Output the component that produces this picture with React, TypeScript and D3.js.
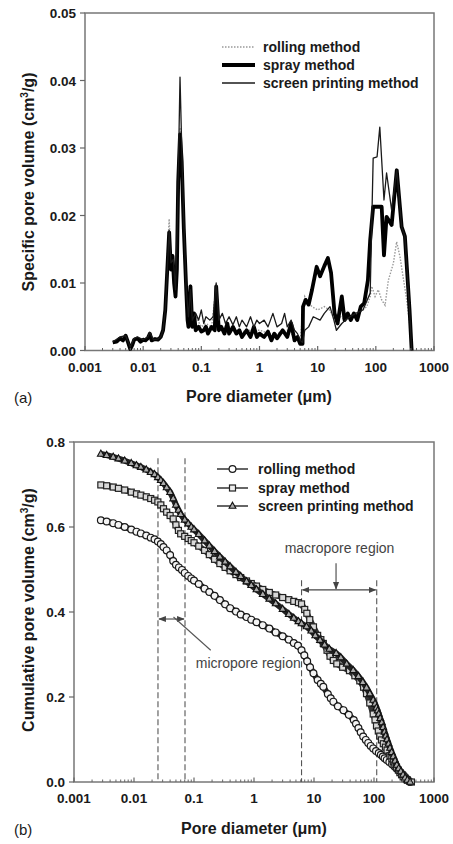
import React from 'react';
import * as d3 from 'd3';

const W = 453;
const H = 844;
const FONT = "'Liberation Sans', Arial, Helvetica, sans-serif";

// ---------- shared axis data ----------
const xTickValues = [0.001, 0.01, 0.1, 1, 10, 100, 1000];
const xTickLabels = ['0.001', '0.01', '0.1', '1', '10', '100', '1000'];
const seriesNames = ['rolling method', 'spray method', 'screen printing method'];

// ---------- chart (a): specific pore volume ----------
const yTicksA = [0, 0.01, 0.02, 0.03, 0.04, 0.05];
const yTickLabelsA = ['0.00', '0.01', '0.02', '0.03', '0.04', '0.05'];

const rollingSpecific: [number, number][] = [
  [0.003, 0.0012], [0.004, 0.0018], [0.005, 0.002], [0.006, 0.0003], [0.007, 0.0015], [0.008, 0.0018],
  [0.01, 0.0015], [0.013, 0.0024], [0.015, 0.0015], [0.02, 0.0019], [0.022, 0.003], [0.024, 0.007],
  [0.026, 0.014], [0.028, 0.0195], [0.03, 0.013], [0.033, 0.012], [0.036, 0.0085], [0.039, 0.018],
  [0.043, 0.033], [0.047, 0.026], [0.05, 0.018], [0.055, 0.0095], [0.06, 0.004], [0.065, 0.0098],
  [0.07, 0.004], [0.08, 0.005], [0.1, 0.0035], [0.12, 0.004], [0.15, 0.0035], [0.18, 0.0095],
  [0.2, 0.0035], [0.25, 0.003], [0.3, 0.0035], [0.4, 0.003], [0.5, 0.0028], [0.7, 0.003], [1.0, 0.003],
  [1.5, 0.0025], [2.0, 0.0025], [3.0, 0.003], [4.0, 0.002], [5.0, 0.0015], [5.5, 0.005], [6.0, 0.008],
  [7, 0.007], [8, 0.0065], [10, 0.006], [13, 0.0065], [16, 0.006], [20, 0.0045], [25, 0.005],
  [30, 0.0045], [40, 0.005], [50, 0.0055], [60, 0.006], [70, 0.0065], [80, 0.008], [85, 0.0095],
  [97, 0.008], [110, 0.009], [126, 0.0075], [144, 0.0067], [164, 0.0104], [200, 0.0129], [228, 0.0161],
  [260, 0.0139], [339, 0.0075], [413, 0.0016], [430, 0],
];

const spraySpecific: [number, number][] = [
  [0.003, 0.0012], [0.0035, 0.0013], [0.004, 0.0018], [0.0045, 0.0015], [0.005, 0.0022], [0.0055, 0.0012],
  [0.006, 0.0002], [0.0065, 0.0008], [0.007, 0.0016], [0.008, 0.0018], [0.009, 0.0013], [0.01, 0.0016],
  [0.011, 0.0015], [0.012, 0.0018], [0.013, 0.0025], [0.014, 0.0015], [0.016, 0.0017], [0.018, 0.0016],
  [0.02, 0.002], [0.022, 0.003], [0.024, 0.006], [0.026, 0.012], [0.028, 0.0175], [0.03, 0.012],
  [0.032, 0.014], [0.034, 0.01], [0.036, 0.008], [0.038, 0.012], [0.04, 0.025], [0.043, 0.032],
  [0.046, 0.028], [0.05, 0.018], [0.055, 0.009], [0.058, 0.0045], [0.06, 0.0035], [0.065, 0.0095],
  [0.07, 0.0035], [0.075, 0.0055], [0.08, 0.003], [0.09, 0.0035], [0.1, 0.0028], [0.11, 0.003],
  [0.12, 0.0035], [0.13, 0.0025], [0.15, 0.0035], [0.17, 0.003], [0.18, 0.0095], [0.2, 0.003],
  [0.22, 0.0035], [0.25, 0.0025], [0.28, 0.004], [0.3, 0.0025], [0.35, 0.0035], [0.4, 0.0025],
  [0.45, 0.003], [0.5, 0.002], [0.6, 0.003], [0.7, 0.002], [0.8, 0.0035], [0.9, 0.002], [1.0, 0.0025],
  [1.2, 0.002], [1.4, 0.0028], [1.6, 0.0015], [1.8, 0.0025], [2.0, 0.0018], [2.5, 0.003], [3.0, 0.002],
  [3.5, 0.004], [4.0, 0.0015], [4.5, 0.002], [5.0, 0.001], [5.5, 0.001], [5.6, 0.0065], [6.2, 0.0075],
  [7.0, 0.0068], [8.0, 0.009], [9.6, 0.0124], [11, 0.011], [13, 0.0125], [15, 0.0137], [17, 0.0115],
  [19.5, 0.0055], [22, 0.004], [26, 0.008], [29, 0.0045], [33, 0.0055], [37, 0.0045], [42, 0.0055],
  [48, 0.0045], [55, 0.0065], [63, 0.007], [73, 0.0104], [80, 0.0164], [90, 0.0213], [105, 0.0213],
  [126, 0.0213], [138, 0.0141], [153, 0.0198], [187, 0.0186], [229, 0.0267], [278, 0.0183],
  [316, 0.0169], [380, 0.006], [413, 0],
];

const screenSpecific: [number, number][] = [
  [0.003, 0.0013], [0.004, 0.002], [0.005, 0.0022], [0.006, 0.0005], [0.007, 0.0018], [0.008, 0.002],
  [0.01, 0.0016], [0.012, 0.002], [0.013, 0.0027], [0.015, 0.0016], [0.018, 0.0017], [0.02, 0.002],
  [0.022, 0.003], [0.024, 0.006], [0.026, 0.012], [0.028, 0.0178], [0.03, 0.013], [0.033, 0.0135],
  [0.036, 0.009], [0.039, 0.02], [0.043, 0.0405], [0.047, 0.027], [0.05, 0.019], [0.055, 0.009],
  [0.06, 0.005], [0.065, 0.009], [0.07, 0.0045], [0.08, 0.0055], [0.09, 0.0045], [0.1, 0.006],
  [0.11, 0.004], [0.12, 0.005], [0.14, 0.0045], [0.16, 0.005], [0.18, 0.01], [0.2, 0.0045],
  [0.23, 0.0055], [0.26, 0.004], [0.3, 0.005], [0.35, 0.0038], [0.4, 0.005], [0.45, 0.0035],
  [0.5, 0.0045], [0.6, 0.0035], [0.7, 0.005], [0.8, 0.0035], [0.9, 0.0045], [1.0, 0.004], [1.2, 0.0045],
  [1.4, 0.0035], [1.7, 0.0055], [2.0, 0.0035], [2.4, 0.004], [2.7, 0.0055], [3.0, 0.0035], [3.5, 0.0045],
  [4.0, 0.003], [4.5, 0.0025], [5.0, 0.0015], [5.5, 0.0012], [6.0, 0.003], [7, 0.0035], [8.4, 0.005],
  [11, 0.0045], [13, 0.0055], [16.3, 0.0065], [19, 0.0045], [21, 0.003], [26, 0.004], [30, 0.0045],
  [36, 0.005], [45, 0.0055], [60, 0.006], [80, 0.0085], [90, 0.0285], [105, 0.0287], [117, 0.0331],
  [138, 0.0223], [153, 0.0263], [187, 0.0208], [229, 0.0267], [278, 0.0183], [316, 0.0169],
  [380, 0.006], [413, 0],
];

// ---------- chart (b): cumulative pore volume ----------
const yTicksB = [0, 0.2, 0.4, 0.6, 0.8];
const yTickLabelsB = ['0.0', '0.2', '0.4', '0.6', '0.8'];

const rollingCumulative: [number, number][] = [
  [0.0028, 0.616], [0.0035, 0.613], [0.0045, 0.609], [0.0055, 0.605], [0.007, 0.6], [0.009, 0.594],
  [0.011, 0.589], [0.013, 0.585], [0.016, 0.58], [0.019, 0.575], [0.022, 0.571], [0.025, 0.566],
  [0.028, 0.56], [0.031, 0.553], [0.035, 0.545], [0.04, 0.534], [0.045, 0.52], [0.05, 0.511],
  [0.056, 0.505], [0.063, 0.499], [0.07, 0.492], [0.08, 0.485], [0.09, 0.479], [0.1, 0.474],
  [0.12, 0.466], [0.15, 0.455], [0.18, 0.447], [0.22, 0.438], [0.27, 0.428], [0.33, 0.418],
  [0.4, 0.409], [0.5, 0.401], [0.6, 0.394], [0.75, 0.388], [0.9, 0.382], [1.1, 0.376], [1.4, 0.369],
  [1.8, 0.361], [2.3, 0.352], [3.0, 0.343], [3.8, 0.335], [4.6, 0.327], [5.4, 0.321], [6.2, 0.31],
  [6.9, 0.298], [7.7, 0.284], [8.6, 0.27], [9.8, 0.256], [11.5, 0.24], [13, 0.231], [14.3, 0.224],
  [17, 0.207], [19, 0.197], [21, 0.189], [25, 0.178], [31, 0.169], [38, 0.158], [46, 0.146],
  [50, 0.137], [55, 0.127], [60, 0.117], [66, 0.107], [73, 0.099], [80, 0.092], [88, 0.085], [97, 0.079],
  [108, 0.073], [120, 0.068], [130, 0.064], [140, 0.06], [150, 0.056], [163, 0.052], [180, 0.047],
  [200, 0.042], [218, 0.037], [237, 0.032], [258, 0.027], [280, 0.022], [305, 0.017], [330, 0.012],
  [365, 0.006], [400, 0.0],
];

const sprayCumulative: [number, number][] = [
  [0.0028, 0.699], [0.0035, 0.697], [0.0045, 0.694], [0.0055, 0.691], [0.007, 0.687], [0.009, 0.682],
  [0.011, 0.678], [0.013, 0.675], [0.016, 0.671], [0.019, 0.667], [0.022, 0.663], [0.025, 0.659],
  [0.028, 0.652], [0.031, 0.643], [0.035, 0.635], [0.04, 0.627], [0.045, 0.619], [0.05, 0.605],
  [0.055, 0.592], [0.06, 0.584], [0.07, 0.578], [0.08, 0.573], [0.09, 0.568], [0.1, 0.563],
  [0.12, 0.555], [0.15, 0.545], [0.18, 0.535], [0.22, 0.524], [0.27, 0.514], [0.33, 0.505],
  [0.4, 0.497], [0.5, 0.488], [0.6, 0.481], [0.75, 0.473], [0.9, 0.467], [1.1, 0.461], [1.4, 0.453],
  [1.8, 0.446], [2.3, 0.44], [3.0, 0.434], [3.8, 0.429], [4.6, 0.425], [5.5, 0.422], [6.2, 0.419],
  [7.0, 0.406], [7.6, 0.397], [8.5, 0.382], [9.8, 0.365], [11.5, 0.345], [13, 0.335], [14.3, 0.326],
  [16.5, 0.31], [18.5, 0.296], [21, 0.286], [24, 0.278], [30, 0.27], [39, 0.262], [48, 0.25],
  [58, 0.238], [67, 0.223], [75, 0.208], [85, 0.186], [97, 0.16], [104, 0.146], [110, 0.132],
  [118, 0.12], [125, 0.108], [133, 0.099], [143, 0.09], [155, 0.082], [165, 0.075], [185, 0.062],
  [198, 0.055], [210, 0.048], [224, 0.041], [237, 0.035], [255, 0.028], [270, 0.022], [288, 0.017],
  [306, 0.012], [330, 0.008], [360, 0.004], [420, 0.0],
];

const screenCumulative: [number, number][] = [
  [0.0028, 0.772], [0.0035, 0.769], [0.0045, 0.765], [0.0055, 0.761], [0.007, 0.756], [0.009, 0.75],
  [0.011, 0.745], [0.013, 0.741], [0.016, 0.735], [0.019, 0.729], [0.022, 0.724], [0.025, 0.717],
  [0.028, 0.71], [0.031, 0.703], [0.035, 0.693], [0.04, 0.682], [0.045, 0.667], [0.05, 0.652],
  [0.055, 0.64], [0.06, 0.63], [0.07, 0.617], [0.08, 0.608], [0.09, 0.6], [0.1, 0.594], [0.12, 0.583],
  [0.15, 0.568], [0.18, 0.556], [0.22, 0.543], [0.27, 0.53], [0.33, 0.518], [0.4, 0.507], [0.5, 0.494],
  [0.6, 0.484], [0.75, 0.472], [0.9, 0.463], [1.1, 0.453], [1.4, 0.442], [1.8, 0.431], [2.3, 0.42],
  [3.0, 0.407], [3.8, 0.395], [4.6, 0.386], [5.5, 0.378], [6.2, 0.373], [7.5, 0.366], [9, 0.356],
  [10.5, 0.345], [12.6, 0.334], [15, 0.323], [18, 0.313], [23.4, 0.303], [28, 0.293], [35, 0.278],
  [45, 0.263], [55, 0.249], [65, 0.235], [75, 0.222], [85, 0.208], [97, 0.193], [104, 0.184],
  [110, 0.175], [115, 0.168], [120, 0.16], [127, 0.15], [135, 0.14], [142, 0.129], [150, 0.118],
  [157, 0.109], [165, 0.1], [175, 0.09], [185, 0.08], [197, 0.07], [210, 0.06], [225, 0.05],
  [240, 0.04], [258, 0.032], [280, 0.025], [305, 0.017], [330, 0.01], [360, 0.005], [400, 0.0],
];

// annotation values (data space)
const microBounds = [0.0251, 0.0708];
const macroBounds = [6.2, 111];

function minorTicks(): number[] {
  const out: number[] = [];
  for (let e = -3; e < 3; e++) {
    for (let m = 2; m <= 9; m++) out.push(m * Math.pow(10, e));
  }
  return out;
}

type Frame = { left: number; right: number; top: number; bottom: number };

function XAxis({ x, f }: { x: d3.ScaleLogarithmic<number, number>; f: Frame }) {
  return (
    <g>
      {minorTicks().map((t, i) => (
        <line key={'m' + i} x1={x(t)} x2={x(t)} y1={f.bottom} y2={f.bottom - 2.5} stroke="#666" strokeWidth={1} />
      ))}
      {xTickValues.map((t, i) => (
        <g key={'M' + i}>
          <line x1={x(t)} x2={x(t)} y1={f.bottom} y2={f.bottom - 4.5} stroke="#666" strokeWidth={1.2} />
          <text x={x(t)} y={f.bottom + 21} textAnchor="middle" fontSize={13.5} fontWeight="bold" fill="#1a1a1a" fontFamily={FONT}>
            {xTickLabels[i]}
          </text>
        </g>
      ))}
    </g>
  );
}

function YAxis({ y, f, ticks, labels }: { y: d3.ScaleLinear<number, number>; f: Frame; ticks: number[]; labels: string[] }) {
  return (
    <g>
      {ticks.map((t, i) => (
        <g key={i}>
          <line x1={f.left - 5} x2={f.left} y1={y(t)} y2={y(t)} stroke="#666" strokeWidth={1.2} />
          <text x={f.left - 9} y={y(t) + 5} textAnchor="end" fontSize={13.5} fontWeight="bold" fill="#1a1a1a" fontFamily={FONT}>
            {labels[i]}
          </text>
        </g>
      ))}
    </g>
  );
}

function FrameBox({ f }: { f: Frame }) {
  return (
    <rect x={f.left} y={f.top} width={f.right - f.left} height={f.bottom - f.top} fill="none" stroke="#777" strokeWidth={1.5} />
  );
}

function ChartA() {
  const f: Frame = { left: 85, right: 434, top: 13, bottom: 350.5 };
  const x = d3.scaleLog().domain([0.001, 1000]).range([f.left, f.right]);
  const y = d3.scaleLinear().domain([0, 0.05]).range([f.bottom, f.top]);
  const line = d3.line<[number, number]>().x((d) => x(d[0])).y((d) => y(d[1]));
  const legendY = [47, 65, 83];
  return (
    <g>
      <FrameBox f={f} />
      <path d={line(rollingSpecific) || ''} fill="none" stroke="#999" strokeWidth={1.4} strokeDasharray="1.5,1.5" />
      <path d={line(spraySpecific) || ''} fill="none" stroke="#000" strokeWidth={3.8} strokeLinejoin="round" />
      <path d={line(screenSpecific) || ''} fill="none" stroke="#1a1a1a" strokeWidth={1.3} strokeLinejoin="round" />
      <XAxis x={x} f={f} />
      <YAxis y={y} f={f} ticks={yTicksA} labels={yTickLabelsA} />
      {/* legend */}
      <line x1={222} x2={255} y1={legendY[0]} y2={legendY[0]} stroke="#999" strokeWidth={1.4} strokeDasharray="1.5,1.5" />
      <line x1={222} x2={255} y1={legendY[1]} y2={legendY[1]} stroke="#000" strokeWidth={3.8} />
      <line x1={222} x2={255} y1={legendY[2]} y2={legendY[2]} stroke="#1a1a1a" strokeWidth={1.3} />
      {seriesNames.map((s, i) => (
        <text key={s} x={263} y={legendY[i] + 5} fontSize={14} fontWeight="bold" fill="#1a1a1a" fontFamily={FONT}>
          {s}
        </text>
      ))}
      <text x={259} y={402} textAnchor="middle" fontSize={16} fontWeight="bold" fill="#1a1a1a" fontFamily={FONT}>
        Pore diameter (μm)
      </text>
      <text transform="translate(34,182) rotate(-90)" textAnchor="middle" fontSize={16} fontWeight="bold" fill="#1a1a1a" fontFamily={FONT}>
        Specific pore volume (cm<tspan dy={-6} fontSize={10}>3</tspan><tspan dy={6}>/g)</tspan>
      </text>
      <text x={14} y={403} fontSize={15} fill="#1a1a1a" fontFamily={FONT}>(a)</text>
    </g>
  );
}

function triPath(cx: number, cy: number) {
  return `M${cx},${cy - 3.8} L${cx + 3.4},${cy + 2.3} L${cx - 3.4},${cy + 2.3} Z`;
}

function ChartB() {
  const f: Frame = { left: 74, right: 434, top: 442, bottom: 782 };
  const x = d3.scaleLog().domain([0.001, 1000]).range([f.left, f.right]);
  const y = d3.scaleLinear().domain([0, 0.8]).range([f.bottom, f.top]);
  const line = d3.line<[number, number]>().x((d) => x(d[0])).y((d) => y(d[1]));
  const legendY = [469, 488, 506];
  const dash = '6,3';
  const grey = '#555';
  const macroTopV = 0.475;
  const microTopV = 0.762;
  const macroArrowV = 0.452;
  const microArrowV = 0.3835;
  const mid = Math.sqrt(microBounds[0] * microBounds[1]);
  return (
    <g>
      <defs>
        <marker id="ah" viewBox="0 0 10 10" refX="9" refY="5" markerWidth="7" markerHeight="7" orient="auto-start-reverse">
          <path d="M0,1 L10,5 L0,9 Z" fill="#444" />
        </marker>
      </defs>
      <FrameBox f={f} />
      {/* dashed region boundaries */}
      {microBounds.map((b, i) => (
        <line key={'mi' + i} x1={x(b)} x2={x(b)} y1={y(microTopV)} y2={f.bottom} stroke={grey} strokeWidth={1.1} strokeDasharray={dash} />
      ))}
      {macroBounds.map((b, i) => (
        <line key={'ma' + i} x1={x(b)} x2={x(b)} y1={y(macroTopV)} y2={f.bottom} stroke={grey} strokeWidth={1.1} strokeDasharray={dash} />
      ))}
      {/* series: rolling */}
      <path d={line(rollingCumulative) || ''} fill="none" stroke="#222" strokeWidth={6} strokeLinejoin="round" />
      {rollingCumulative.map((d, i) => (
        <circle key={'r' + i} cx={x(d[0])} cy={y(d[1])} r={3.4} fill="#f4f4f4" stroke="#1a1a1a" strokeWidth={1.2} />
      ))}
      {/* series: spray */}
      <path d={line(sprayCumulative) || ''} fill="none" stroke="#333" strokeWidth={6} strokeLinejoin="round" />
      {sprayCumulative.map((d, i) => (
        <rect key={'s' + i} x={x(d[0]) - 3} y={y(d[1]) - 3} width={6} height={6} fill="#d8d8d8" stroke="#222" strokeWidth={1.2} />
      ))}
      {/* series: screen printing */}
      <path d={line(screenCumulative) || ''} fill="none" stroke="#222" strokeWidth={6} strokeLinejoin="round" />
      {screenCumulative.map((d, i) => (
        <path key={'t' + i} d={triPath(x(d[0]), y(d[1]))} fill="#aaa" stroke="#111" strokeWidth={1.1} />
      ))}
      <XAxis x={x} f={f} />
      <YAxis y={y} f={f} ticks={yTicksB} labels={yTickLabelsB} />
      {/* macropore annotation */}
      <text x={x(26.6)} y={y(0.55) + 5} textAnchor="middle" fontSize={14} fill="#444" fontFamily={FONT}>macropore region</text>
      <line x1={x(23.3)} x2={x(23.3)} y1={y(0.515)} y2={y(macroArrowV) - 1} stroke="#444" strokeWidth={1.1} markerEnd="url(#ah)" />
      <line x1={x(macroBounds[0]) + 1} x2={x(macroBounds[1]) - 1} y1={y(macroArrowV)} y2={y(macroArrowV)} stroke="#444" strokeWidth={1.1} markerStart="url(#ah)" markerEnd="url(#ah)" />
      {/* micropore annotation */}
      <line x1={x(microBounds[0]) + 1} x2={x(microBounds[1]) - 1} y1={y(microArrowV)} y2={y(microArrowV)} stroke="#444" strokeWidth={1.1} markerStart="url(#ah)" markerEnd="url(#ah)" />
      <line x1={x(0.19)} x2={x(mid) + 2} y1={y(0.31)} y2={y(microArrowV) - 2} stroke="#555" strokeWidth={1.1} />
      <text x={x(0.107)} y={y(0.28) + 5} fontSize={14} fill="#444" fontFamily={FONT}>micropore region</text>
      {/* legend */}
      {seriesNames.map((s, i) => (
        <g key={s}>
          <line x1={217} x2={248} y1={legendY[i]} y2={legendY[i]} stroke="#333" strokeWidth={1.5} />
          {i === 0 && <circle cx={232.5} cy={legendY[i]} r={3.4} fill="#fff" stroke="#1a1a1a" strokeWidth={1.2} />}
          {i === 1 && <rect x={229.5} y={legendY[i] - 3} width={6} height={6} fill="#eee" stroke="#222" strokeWidth={1.2} />}
          {i === 2 && <path d={triPath(232.5, legendY[i])} fill="#aaa" stroke="#111" strokeWidth={1.1} />}
          <text x={258} y={legendY[i] + 5} fontSize={14} fontWeight="bold" fill="#1a1a1a" fontFamily={FONT}>{s}</text>
        </g>
      ))}
      <text x={254} y={834} textAnchor="middle" fontSize={16} fontWeight="bold" fill="#1a1a1a" fontFamily={FONT}>
        Pore diameter (μm)
      </text>
      <text transform="translate(34,610) rotate(-90)" textAnchor="middle" fontSize={16} fontWeight="bold" fill="#1a1a1a" fontFamily={FONT}>
        Cumulative pore volume (cm<tspan dy={-6} fontSize={10}>3</tspan><tspan dy={6}>/g)</tspan>
      </text>
      <text x={14} y={835} fontSize={15} fill="#1a1a1a" fontFamily={FONT}>(b)</text>
    </g>
  );
}

export default function App() {
  return (
    <svg width={W} height={H} viewBox={`0 0 ${W} ${H}`} style={{ position: 'absolute', left: 0, top: 0, background: '#fff' }}>
      <rect width={W} height={H} fill="#fff" />
      <ChartA />
      <ChartB />
    </svg>
  );
}
